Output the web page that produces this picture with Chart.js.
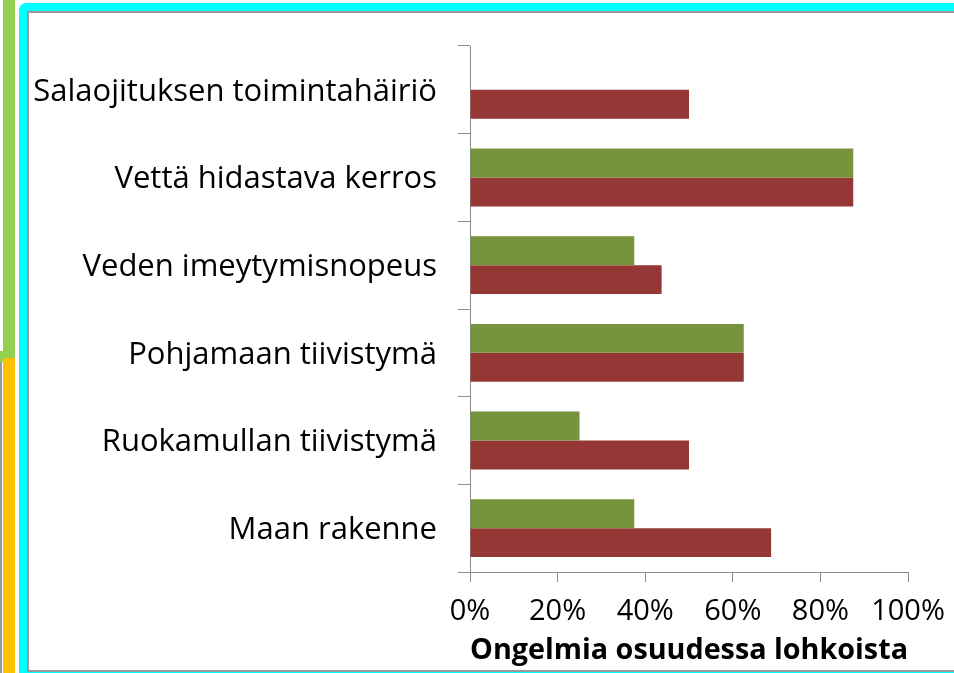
<!DOCTYPE html>
<html>
<head>
<meta charset="utf-8">
<script src="https://cdn.jsdelivr.net/npm/chart.js@4"></script>
<style>
  html, body { margin: 0; padding: 0; background: #fff; overflow: hidden; }
  #page { position: relative; width: 954px; height: 673px; overflow: hidden; }
  .strip-green { position: absolute; left: 3px; top: 0; width: 12px; height: 362px; background: #92d050; border-bottom-right-radius: 5px; }
  .strip-nub { position: absolute; left: 0; top: 351px; width: 4px; height: 11px; background: #92d050; }
  .strip-orange { position: absolute; left: 3px; top: 358px; width: 12px; height: 320px; background: #ffc000; }
  .strip-gray { position: absolute; left: 0; top: 362px; width: 2px; height: 320px; background: #999; }
  .frame { position: absolute; left: 19px; top: 3px; width: 960px; height: 700px; background: #00ffff; border-top-left-radius: 7px; }
  .inner { position: absolute; left: 27px; top: 11px; width: 950px; height: 657px; background: #fff; border-top: 2px solid #999; border-left: 2px solid #999; border-bottom: 2px solid #999; }
  #wrap { position: absolute; left: 29px; top: 13px; width: 925px; height: 655px; }
</style>
</head>
<body>
<div id="page">
  <div class="strip-green"></div>
  <div class="strip-nub"></div>
  <div class="strip-orange"></div>
  <div class="strip-gray"></div>
  <div class="frame"></div>
  <div class="inner"></div>
  <div id="wrap"><canvas id="myChart" width="925" height="655"></canvas></div>
</div>
<script>
const categories = [
    'Salaojituksen toimintahäiriö',
    'Vettä hidastava kerros',
    'Veden imeytymisnopeus',
    'Pohjamaan tiivistymä',
    'Ruokamullan tiivistymä',
    'Maan rakenne',
];
const greenValues = [0, 87.5, 37.5, 62.5, 25, 37.5];
const redValues = [50, 87.5, 43.75, 62.5, 50, 68.75];
const xTicks = [0, 20, 40, 60, 80, 100];
const xTitle = 'Ongelmia osuudessa lohkoista';

const axisColor = '#8c8c8c';
const fontFamily = '"Open Sans", sans-serif';

const ctx = document.getElementById('myChart').getContext('2d');
const myChart = new Chart(ctx, {
    type: 'bar',
    data: {
        labels: categories,
        datasets: [{
            data: greenValues,
            backgroundColor: '#77933c',
            categoryPercentage: 0.66,
            barPercentage: 1.0,
        }, {
            data: redValues,
            backgroundColor: '#953735',
            categoryPercentage: 0.66,
            barPercentage: 1.0,
        }],
    },
    options: {
        indexAxis: 'y',
        responsive: false,
        animation: false,
        layout: {
            padding: { top: 33, right: 46, left: 0, bottom: 0 },
        },
        plugins: {
            legend: { display: false },
            tooltip: { enabled: false },
        },
        scales: {
            x: {
                min: 0,
                max: 100,
                afterBuildTicks: scale => {
                    scale.ticks = xTicks.map(v => ({ value: v }));
                },
                afterFit: scale => {
                    scale.height = 96;
                    scale.paddingLeft = 0;
                    scale.paddingRight = 0;
                },
                border: { color: axisColor, width: 1 },
                grid: {
                    drawOnChartArea: false,
                    color: axisColor,
                    tickLength: 10,
                },
                ticks: {
                    color: '#000',
                    padding: 12,
                    font: { family: fontFamily, size: 29 },
                    callback: v => v + '%',
                },
                title: {
                    display: true,
                    text: xTitle,
                    color: '#000',
                    padding: { top: 0, bottom: 0 },
                    font: { family: fontFamily, size: 29, weight: 'bold' },
                },
            },
            y: {
                afterFit: scale => {
                    scale.width = 441;
                    scale.paddingTop = 0;
                    scale.paddingBottom = 0;
                },
                border: { color: axisColor, width: 1 },
                grid: {
                    drawOnChartArea: false,
                    color: axisColor,
                    tickLength: 12,
                    offset: true,
                },
                ticks: {
                    color: '#000',
                    padding: 21,
                    labelOffset: 2,
                    font: { family: fontFamily, size: 31 },
                },
            },
        },
    },
});
</script>
</body>
</html>
